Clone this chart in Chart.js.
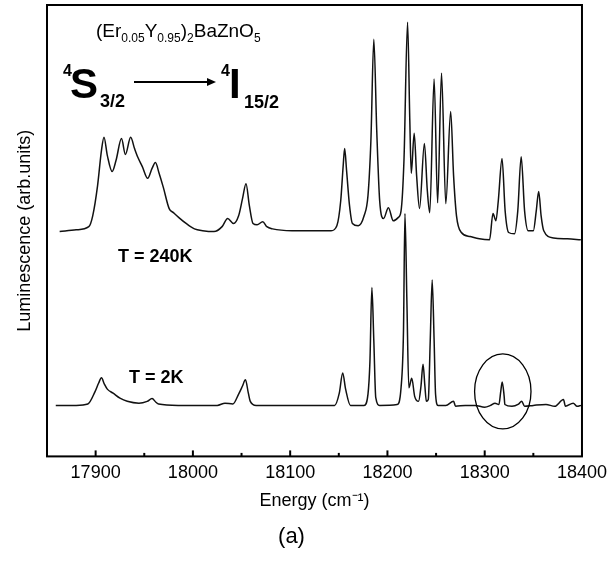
<!DOCTYPE html>
<html>
<head>
<meta charset="utf-8">
<script src="https://cdn.jsdelivr.net/npm/chart.js@4.4.1/dist/chart.umd.min.js"></script>
<style>
  html, body { margin: 0; padding: 0; background: #fff; }
  #wrap { width: 613px; height: 561px; }
</style>
</head>
<body>
<div id="wrap"><canvas id="c" width="613" height="561"></canvas></div>
<script>
// ---------------- data ----------------
// T = 240K spectrum
const hotEnergy = [17863,17880,17893,17897,17902,17906,17908.6,17912,17917,17921,17926.6,17930.6,17936,17940,17943.5,17948,17953.5,17958,17961.5,17965,17969.6,17975.6,17980,17985.6,17993,18001.6,18010,18021.7,18030,18035.7,18041.8,18047,18051,18054.6,18058,18061.8,18066,18071.8,18076,18081.9,18101.9,18142,18148,18152,18154.5,18156,18158,18161,18164,18170,18176,18180,18183,18186,18189,18192,18196,18201,18206,18211,18214,18217,18220.7,18223,18224.5,18227.5,18230,18233,18238,18241,18243.5,18248,18251.6,18255.6,18260,18265,18268,18271,18276,18285,18294.5,18305,18308.5,18311.5,18314,18317.8,18321,18324.6,18330.6,18334,18337.5,18341,18344.7,18350,18353,18355.5,18358,18360.7,18370.7,18385,18398.8];
const hotIntensity = [49.8,50.2,50.9,53.3,60,67.8,70.7,66.7,63.1,65.6,70.4,66.9,70.7,68.2,66.2,64.2,61.6,63.8,65.1,62.9,59.6,54.9,54,52.9,51.6,50.4,50,49.8,50.9,52.7,51.6,53.3,57.1,60.4,55.6,51.6,51.3,52,50.9,50.4,50,50,51.1,56.7,64.4,68.2,63.3,55.6,51.6,51.1,53.3,57.8,70,92.4,72.2,56.7,52.7,55.1,52.2,52.9,54.4,65.6,96.2,74.4,62.7,71.6,62.2,54.9,69.3,58.9,54,83.6,56.2,84.9,56,76.4,62.2,53.3,49.6,48.7,48.2,48,53.8,52.2,56.7,66,54.4,49.6,49.3,54.4,66.4,54.4,50,50,54.4,58.7,53.3,50,48.4,48.2,48];

// T = 2K spectrum
const coldEnergy = [17859,17880,17892,17899.5,17903,17906,17909,17912,17918,17925,17932.5,17944.5,17953,17958,17962,17964.7,17984.8,18025,18033,18041,18047,18051,18054,18057,18059,18065,18145.7,18150.5,18154,18157,18162,18176,18180,18182,18184,18186,18188,18192,18210,18214,18216.5,18218,18220,18222,18225,18228,18232,18234.5,18236.6,18238.5,18240,18242,18244,18246,18248,18249.5,18252,18260,18268,18270,18280,18290,18300,18306,18310.6,18314.6,18316.5,18318,18320,18320.7,18328,18334.8,18338,18341,18350,18363,18372,18381,18383,18391,18395,18399];
const coldIntensity = [11.3,11.3,11.6,14.4,16.2,17.4,16,14.9,14,12.9,12.2,11.8,12.2,12.8,12,11.6,11.3,11.3,11.8,11.6,13.8,15.6,17,14,12.2,11.3,11.3,14,18.5,14.9,11.3,11.3,13.8,21,37.4,25.6,13,11.3,11.5,15.2,27.8,53.8,34.4,15.2,17.3,13.3,12.2,15.6,20.4,15.6,12.2,12.6,25.6,39.1,25.6,13.7,11.3,11.3,12.2,11.1,11.3,11.3,10.9,11.3,11.8,11.5,14.4,16.5,13.3,11.5,11.1,11.6,12.2,11.1,11.3,11.5,11.1,12.6,11.1,11.8,11.1,11.3];

// axis
const xMin = 17850, xMax = 18400, xStep = 50, xLabelEvery = 100;
const yMin = 0, yMax = 100;

// circled peak (data coords)
const circleCenter = [18318.6, 14.4];
const circleRadius = [29, 8.3];

// ---------------- build ----------------
function pts(xs, ys) { return xs.map((x, i) => ({ x: x, y: ys[i] })); }

const FONT = "'Liberation Sans', Arial, Helvetica, sans-serif";

function drawRich(ctx, x, baseline, parts) {
  let cx = x;
  for (const p of parts) {
    ctx.font = (p.bold ? 'bold ' : '') + p.size + 'px ' + FONT;
    if (p.x !== undefined) cx = p.x;
    ctx.fillText(p.t, cx, baseline + (p.dy || 0));
    cx += ctx.measureText(p.t).width + (p.gap || 0);
  }
}

const annotate = {
  id: 'annotate',
  afterDraw(chart) {
    const ctx = chart.ctx;
    const a = chart.chartArea;
    const xs = chart.scales.x, ys = chart.scales.y;
    ctx.save();
    // frame
    ctx.strokeStyle = '#000';
    ctx.lineWidth = 2;
    ctx.strokeRect(a.left, a.top, a.right - a.left, a.bottom - a.top);
    // inward ticks on bottom axis
    for (const t of xs.ticks) {
      const px = xs.getPixelForValue(t.value);
      const len = (t.value % xLabelEvery === 0) ? 6 : 3.5;
      ctx.beginPath();
      ctx.moveTo(px, a.bottom);
      ctx.lineTo(px, a.bottom - len);
      ctx.stroke();
    }
    // ellipse around peak
    const ecx = xs.getPixelForValue(circleCenter[0]);
    const ecy = ys.getPixelForValue(circleCenter[1]);
    const erx = Math.abs(xs.getPixelForValue(circleCenter[0] + circleRadius[0]) - ecx);
    const ery = Math.abs(ys.getPixelForValue(circleCenter[1] + circleRadius[1]) - ecy);
    ctx.lineWidth = 1.3;
    ctx.beginPath();
    ctx.ellipse(ecx, ecy, erx, ery, 0, 0, Math.PI * 2);
    ctx.stroke();

    // texts
    ctx.fillStyle = '#000';
    ctx.textBaseline = 'alphabetic';
    ctx.textAlign = 'left';
    drawRich(ctx, 96, 37, [
      { t: '(Er', size: 19 },
      { t: '0.05', size: 12, dy: 5 },
      { t: 'Y', size: 19 },
      { t: '0.95', size: 12, dy: 5 },
      { t: ')', size: 19 },
      { t: '2', size: 12, dy: 5 },
      { t: 'BaZnO', size: 19 },
      { t: '5', size: 12, dy: 5 }
    ]);
    drawRich(ctx, 63, 98, [
      { t: '4', size: 16, bold: true, dy: -22 },
      { t: 'S', size: 42, bold: true, x: 70 },
      { t: '3/2', size: 18, bold: true, dy: 9, x: 100 }
    ]);
    drawRich(ctx, 221, 98, [
      { t: '4', size: 16, bold: true, dy: -22 },
      { t: 'I', size: 42, bold: true, x: 229 },
      { t: '15/2', size: 18, bold: true, dy: 10, x: 244 }
    ]);
    // arrow
    ctx.lineWidth = 2;
    ctx.beginPath();
    ctx.moveTo(134, 82);
    ctx.lineTo(209, 82);
    ctx.stroke();
    ctx.beginPath();
    ctx.moveTo(216, 82);
    ctx.lineTo(207, 78);
    ctx.lineTo(207, 86);
    ctx.closePath();
    ctx.fill();

    ctx.font = 'bold 18px ' + FONT;
    ctx.fillText('T = 240K', 118, 262);
    ctx.fillText('T = 2K', 129, 383);
    ctx.restore();
  }
};

new Chart(document.getElementById('c'), {
  type: 'line',
  data: {
    datasets: [
      { label: 'T = 240K', data: pts(hotEnergy, hotIntensity) },
      { label: 'T = 2K', data: pts(coldEnergy, coldIntensity) }
    ]
  },
  options: {
    responsive: false,
    animation: false,
    devicePixelRatio: 1,
    layout: { padding: { top: 5, right: 30, left: 0, bottom: 0 } },
    elements: {
      point: { radius: 0 },
      line: { borderColor: '#111', borderWidth: 1.5, cubicInterpolationMode: 'monotone', fill: false }
    },
    plugins: {
      legend: { display: false },
      tooltip: { enabled: false },
      title: {
        display: true,
        position: 'bottom',
        text: '(a)',
        color: '#000',
        font: { family: FONT, size: 22, weight: 'normal' },
        padding: { top: 12.2, bottom: 10.8 }
      }
    },
    scales: {
      x: {
        type: 'linear',
        min: xMin, max: xMax,
        grid: { display: false, drawTicks: false },
        border: { display: false },
        ticks: {
          stepSize: xStep,
          autoSkip: false,
          maxRotation: 0,
          padding: 6,
          color: '#000',
          font: { family: FONT, size: 18 },
          callback: (v) => (v % xLabelEvery === 0 ? String(v) : '')
        },
        title: {
          display: true,
          text: 'Energy (cm\u207B\u00B9)',
          color: '#000',
          font: { family: FONT, size: 18 },
          padding: { top: 0, bottom: 0 }
        }
      },
      y: {
        type: 'linear',
        min: yMin, max: yMax,
        grid: { display: false, drawTicks: false },
        border: { display: false },
        ticks: { display: false },
        title: {
          display: true,
          text: 'Luminescence (arb.units)',
          color: '#000',
          font: { family: FONT, size: 18 },
          padding: { top: 14, bottom: 11.4 }
        }
      }
    }
  },
  plugins: [annotate]
});
</script>
</body>
</html>
